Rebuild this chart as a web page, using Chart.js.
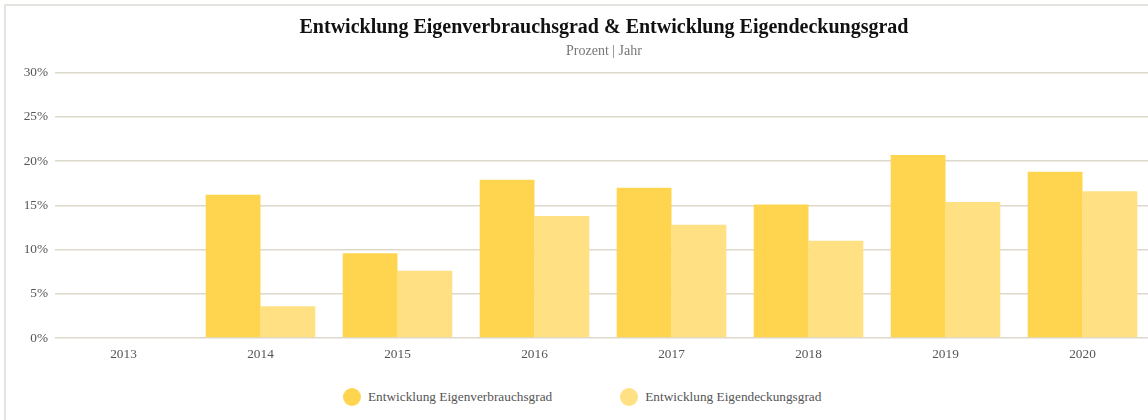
<!DOCTYPE html>
<html lang="de">
<head>
<meta charset="utf-8">
<title>Entwicklung Eigenverbrauchsgrad & Eigendeckungsgrad</title>
<script src="https://cdn.jsdelivr.net/npm/chart.js@4/dist/chart.umd.min.js"></script>
<style>
  html, body { margin: 0; padding: 0; background: #fff; overflow: hidden; }
  .frame {
    position: absolute;
    left: 4px;
    top: 4px;
    width: 1200px;
    height: 440px;
    border: 2px solid #e4e4e0;
    background: #fff;
  }
  canvas { display: block; }
  .legend {
    position: absolute;
    left: 337px;
    top: 382px;
    display: flex;
    align-items: center;
    font-family: 'Liberation Serif', 'DejaVu Serif', serif;
    font-size: 13.3px;
    color: #555;
  }
  .legend-item { display: flex; align-items: center; margin-right: 68px; white-space: nowrap; }
  .legend-dot { width: 18px; height: 18px; border-radius: 50%; margin-right: 7px; }
</style>
</head>
<body>
<div class="frame">
  <canvas id="chart" width="1178" height="370"></canvas>
  <div class="legend" id="legend"></div>
</div>
<script>
const years = ["2013", "2014", "2015", "2016", "2017", "2018", "2019", "2020"];
const eigenverbrauch = [0, 16.2, 9.6, 17.9, 17.0, 15.1, 20.7, 18.8];
const eigendeckung = [0, 3.6, 7.6, 13.8, 12.8, 11.0, 15.4, 16.6];
const yTicks = [0, 5, 10, 15, 20, 25, 30];

const serif = "'Liberation Serif', 'DejaVu Serif', serif";

const chart = new Chart(document.getElementById("chart"), {
  type: "bar",
  data: {
    labels: years,
    datasets: [
      {
        label: "Entwicklung Eigenverbrauchsgrad",
        data: eigenverbrauch,
        backgroundColor: "#ffd54f",
        borderWidth: 0,
        categoryPercentage: 0.8,
        barPercentage: 1.0
      },
      {
        label: "Entwicklung Eigendeckungsgrad",
        data: eigendeckung,
        backgroundColor: "#ffe082",
        borderWidth: 0,
        categoryPercentage: 0.8,
        barPercentage: 1.0
      }
    ]
  },
  options: {
    responsive: false,
    animation: false,
    layout: {
      padding: { left: 18, right: 0, top: 0, bottom: 6 }
    },
    plugins: {
      title: {
        display: true,
        text: "Entwicklung Eigenverbrauchsgrad & Entwicklung Eigendeckungsgrad",
        color: "#111",
        font: { family: serif, size: 20, weight: "bold" },
        padding: { top: 10, bottom: 3 }
      },
      subtitle: {
        display: true,
        text: "Prozent | Jahr",
        color: "#777",
        font: { family: serif, size: 14 },
        padding: { top: 0, bottom: 13 }
      },
      legend: { display: false },
      tooltip: { enabled: false }
    },
    scales: {
      x: {
        grid: { display: false, drawTicks: false },
        border: { display: false },
        ticks: {
          color: "#555",
          font: { family: serif, size: 13.3 },
          padding: 8
        }
      },
      y: {
        min: 0,
        max: 30,
        afterBuildTicks: (axis) => {
          axis.ticks = yTicks.map((v) => ({ value: v }));
        },
        afterFit: (axis) => {
          axis.width = 31;
        },
        grid: {
          color: "#ddd8cc",
          lineWidth: 1.5,
          drawTicks: false
        },
        border: { display: false },
        ticks: {
          color: "#555",
          font: { family: serif, size: 13.3 },
          padding: 7,
          callback: (v) => v + "%"
        }
      },
      // empty space on the right, keeps the title centred like the original
      spacer: {
        position: "right",
        grid: { display: false },
        border: { display: false },
        ticks: { display: false },
        afterFit: (axis) => {
          axis.width = 33;
        }
      }
    }
  }
});

// html legend below the canvas
const legendBox = document.getElementById("legend");
chart.data.datasets.forEach((ds) => {
  const item = document.createElement("div");
  item.className = "legend-item";
  const dot = document.createElement("span");
  dot.className = "legend-dot";
  dot.style.background = ds.backgroundColor;
  const text = document.createElement("span");
  text.textContent = ds.label;
  item.appendChild(dot);
  item.appendChild(text);
  legendBox.appendChild(item);
});
</script>
</body>
</html>
